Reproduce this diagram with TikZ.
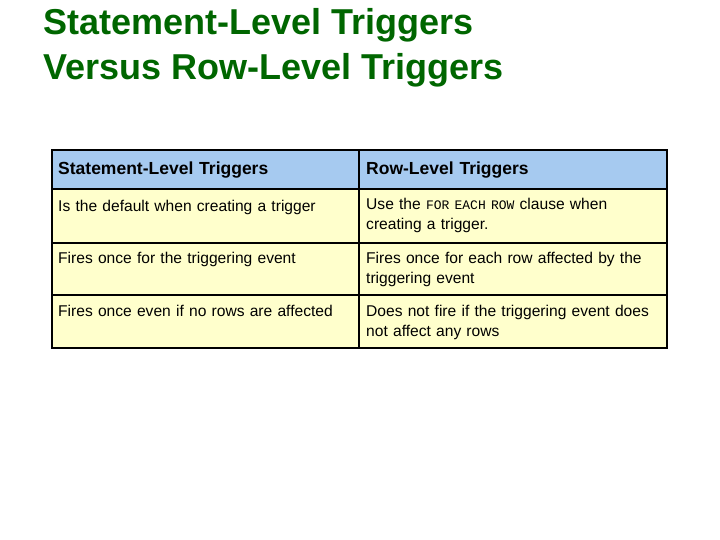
\documentclass[tikz,border=0pt]{standalone}
\usepackage{fontspec}
\setmainfont{Liberation Sans}
\setmonofont{Liberation Mono}
\definecolor{titlegreen}{RGB}{0,102,0}
\definecolor{headblue}{RGB}{166,202,240}
\definecolor{bodyyellow}{RGB}{255,255,204}
\tikzset{
  cell/.style={anchor=north west,inner sep=0pt,align=left,text width=300pt,
    font=\fontsize{15.6pt}{19.5pt}\selectfont},
  headcell/.style={cell,font=\fontsize{17.5pt}{20pt}\selectfont\bfseries},
  grid/.style={line width=2pt,black}
}
\begin{document}
\begin{tikzpicture}[x=1pt,y=-1pt]
    \useasboundingbox (0,0) rectangle (720,540);
    % title
    \node[anchor=north west,inner sep=0pt,align=left,text=titlegreen,
      font=\fontsize{36pt}{45pt}\selectfont\bfseries] (title) at (43,8)
      {Statement-Level Triggers\\Versus Row-Level Triggers};
    % fills
    \fill[headblue] (52,150) rectangle (667,189);
    \fill[bodyyellow] (52,189) rectangle (667,348);
    % grid
    \draw[grid] (52,150) rectangle (667,348);
    \draw[grid] (359,150) -- (359,348);
    \foreach \y in {189,243,295}
      \draw[grid] (52,\y) -- (667,\y);
    % texts
    \node[headcell] (h1) at (58,162) {Statement-Level Triggers};
    \node[headcell] (h2) at (366,162) {Row-Level Triggers};
    \node[cell] (a1) at (58,200) {Is the default when creating a trigger};
    \node[cell] (a2) at (366,198) {Use the {\ttfamily\fontsize{13pt}{19.5pt}\selectfont FOR EACH ROW} clause when\\creating a trigger.};
    \node[cell] (b1) at (58,252) {Fires once for the triggering event};
    \node[cell] (b2) at (366,252) {Fires once for each row affected by the\\triggering event};
    \node[cell] (c1) at (58,305) {Fires once even if no rows are affected};
    \node[cell] (c2) at (366,305) {Does not fire if the triggering event does\\not affect any rows};
\end{tikzpicture}
\end{document}
